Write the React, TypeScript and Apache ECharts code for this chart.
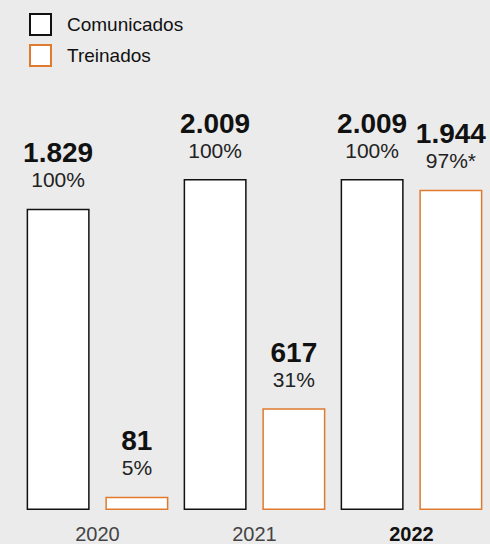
import React, { useEffect, useRef } from "react";
import * as echarts from "echarts";

const categories = ["2020", "2021", "2022"];
const comunicados = [1829, 2009, 2009];
const treinados = [81, 617, 1944];
const comunicadosPct = ["100%", "100%", "100%"];
const treinadosPct = ["5%", "31%", "97%*"];
const seriesNames = ["Comunicados", "Treinados"];

const FONT = "Liberation Sans";
const ORANGE = "#e07a2e";

const fmt = (v: number) => String(v).replace(/\B(?=(\d{3})+(?!\d))/g, ".");

export default function App() {
  const ref = useRef<HTMLDivElement>(null);
  useEffect(() => {
    document.body.style.margin = "0";
    const chart = echarts.init(ref.current!, null, { renderer: "svg" });
    const labelFor = (pcts: string[]) => ({
      show: true,
      position: "top",
      distance: 16,
      formatter: (p: any) => `{n|${fmt(p.value)}}\n{p|${pcts[p.dataIndex]}}`,
      rich: {
        n: { fontFamily: FONT, fontSize: 28, fontWeight: "bold", color: "#111", lineHeight: 28, align: "center" },
        p: { fontFamily: FONT, fontSize: 21, color: "#222", lineHeight: 26, align: "center" },
      },
    });
    chart.setOption({
      animation: false,
      backgroundColor: "#ebebeb",
      legend: {
        orient: "vertical",
        left: 29,
        top: 13,
        padding: 0,
        itemWidth: 21,
        itemHeight: 21,
        itemGap: 8,
        icon: "rect",
        textStyle: { fontFamily: FONT, fontSize: 19, color: "#111", padding: [0, 0, 0, 11] },
        data: seriesNames,
      },
      grid: { left: 19, width: 478, top: 179, bottom: 32 },
      xAxis: {
        type: "category",
        data: categories,
        axisLine: { show: false },
        axisTick: { show: false },
        axisLabel: {
          margin: 14,
          formatter: (v: string) => (v === "2022" ? `{b|${v}}` : `{r|${v}}`),
          rich: {
            r: { fontFamily: FONT, fontSize: 20, color: "#444" },
            b: { fontFamily: FONT, fontSize: 20, fontWeight: "bold", color: "#111" },
          },
        },
      },
      yAxis: { type: "value", min: 0, max: 2009, show: false, splitLine: { show: false } },
      series: [
        {
          name: seriesNames[0],
          type: "bar",
          data: comunicados,
          barWidth: 63,
          barGap: "25%",
          itemStyle: { color: "#ffffff", borderColor: "#111", borderWidth: 1.5 },
          label: labelFor(comunicadosPct),
        },
        {
          name: seriesNames[1],
          type: "bar",
          data: treinados,
          barWidth: 63,
          itemStyle: { color: "#ffffff", borderColor: ORANGE, borderWidth: 1.5 },
          label: labelFor(treinadosPct),
        },
      ],
    });
    return () => chart.dispose();
  }, []);
  return <div ref={ref} style={{ width: 490, height: 544 }} />;
}
